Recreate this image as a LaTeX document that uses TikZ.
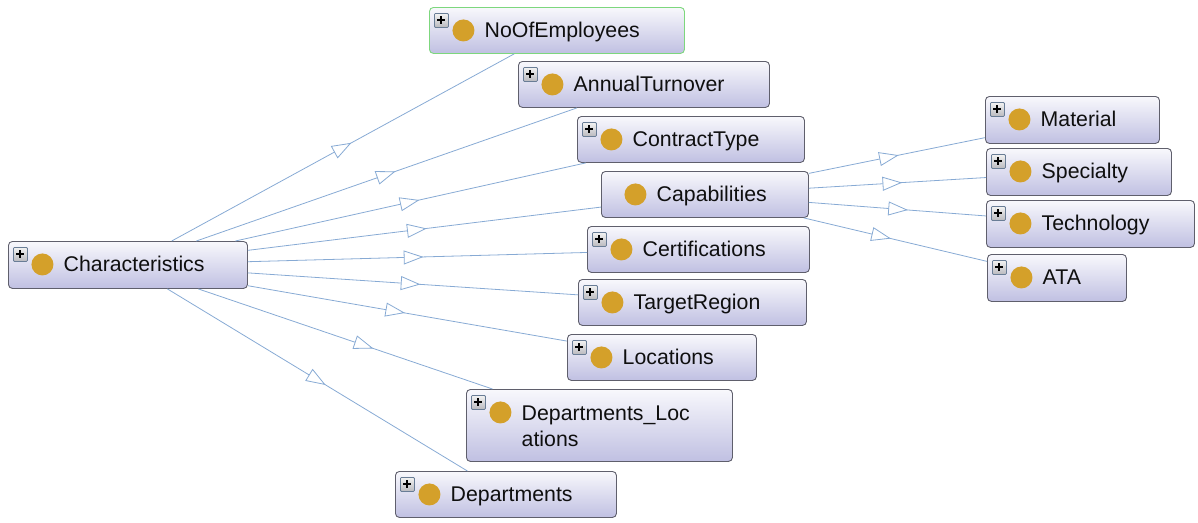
\documentclass[tikz,border=0pt]{standalone}
\usepackage{fontspec}
\setmainfont{Liberation Sans}
\usetikzlibrary{decorations.markings}
\definecolor{edgec}{RGB}{135,170,212}
\definecolor{boxb}{RGB}{95,95,108}
\definecolor{boxtop}{RGB}{248,248,252}
\definecolor{boxbot}{RGB}{192,192,226}
\definecolor{gold}{RGB}{212,160,42}
\definecolor{greenb}{RGB}{125,215,125}
\definecolor{iconb}{RGB}{105,125,150}
\definecolor{icontop}{RGB}{242,242,242}
\definecolor{iconbot}{RGB}{185,185,190}
\definecolor{txt}{RGB}{15,15,15}
\tikzset{
  clsbase/.style 2 args={draw=boxb, line width=0.9pt, rounded corners=4pt,
    top color=boxtop, bottom color=boxbot,
    minimum width=#1pt, minimum height=#2pt, anchor=north west, inner sep=0pt},
  goldpic/.style={path picture={
    \fill[gold] ([shift={(34,23)}]path picture bounding box.north west) circle (11pt);}},
  fullpic/.style={path picture={
    \fill[gold] ([shift={(34,23)}]path picture bounding box.north west) circle (11pt);
    \draw[iconb, line width=0.8pt, rounded corners=1pt, top color=icontop, bottom color=iconbot]
      ([shift={(5,6)}]path picture bounding box.north west) rectangle
      ([shift={(19,20)}]path picture bounding box.north west);
    \draw[black, line width=2pt]
      ([shift={(8,13)}]path picture bounding box.north west) --
      ([shift={(16,13)}]path picture bounding box.north west);
    \draw[black, line width=2pt]
      ([shift={(12,9)}]path picture bounding box.north west) --
      ([shift={(12,17)}]path picture bounding box.north west);}},
  cls/.style 2 args={clsbase={#1}{#2}, fullpic},
  clsnp/.style 2 args={clsbase={#1}{#2}, goldpic},
  lbl/.style={font=\fontsize{21.3pt}{25.5pt}\selectfont, text=txt, inner sep=0pt,
    anchor=base west, align=left},
  edge/.style={draw=edgec, line width=0.8pt},
  tri/.style={decorate,
    decoration={markings, mark=at position 0.5 with {
      \draw[edgec, fill=white, line width=0.8pt, line join=miter]
        (9pt,0pt) -- (-9pt,6.5pt) -- (-9pt,-6.5pt) -- cycle;}}}
}
\begin{document}
\begin{tikzpicture}[x=1pt, y=-1pt]
\useasboundingbox (0,0) rectangle (1198,522);
% boxes
\node[cls={239}{47}] (ch) at (8,241) {};
\node[cls={255}{46}, draw=greenb] (noe) at (429,7) {};
\node[cls={251}{46}] (ann) at (518,61) {};
\node[cls={227}{46}] (ctr) at (577,116) {};
\node[clsnp={207}{46}] (cap) at (601,171) {};
\node[cls={222}{46}] (cert) at (587,226) {};
\node[cls={228}{46}] (treg) at (578,279) {};
\node[cls={189}{46}] (loc) at (567,334) {};
\node[cls={266}{72}] (dloc) at (466,389) {};
\node[cls={221}{46}] (dep) at (395,471) {};
\node[cls={174}{47}] (mat) at (985,96) {};
\node[cls={185}{47}] (spec) at (986,148) {};
\node[cls={208}{47}] (tech) at (986,200) {};
\node[cls={139}{47}] (ata) at (987,254) {};
% labels
\node[lbl] (ch-t) at ([xshift=55.5pt,yshift=-30.5pt]ch.north west) {Characteristics};
\node[lbl] (noe-t) at ([xshift=55.5pt,yshift=-30.5pt]noe.north west) {NoOfEmployees};
\node[lbl] (ann-t) at ([xshift=55.5pt,yshift=-30.5pt]ann.north west) {AnnualTurnover};
\node[lbl] (ctr-t) at ([xshift=55.5pt,yshift=-30.5pt]ctr.north west) {ContractType};
\node[lbl] (cap-t) at ([xshift=55.5pt,yshift=-30.5pt]cap.north west) {Capabilities};
\node[lbl] (cert-t) at ([xshift=55.5pt,yshift=-30.5pt]cert.north west) {Certifications};
\node[lbl] (treg-t) at ([xshift=55.5pt,yshift=-30.5pt]treg.north west) {TargetRegion};
\node[lbl] (loc-t) at ([xshift=55.5pt,yshift=-30.5pt]loc.north west) {Locations};
\node[lbl] (dloc-t) at ([xshift=55.5pt,yshift=-57pt]dloc.north west) {Departments\_Loc\\ations};
\node[lbl] (dep-t) at ([xshift=55.5pt,yshift=-30.5pt]dep.north west) {Departments};
\node[lbl] (mat-t) at ([xshift=55.5pt,yshift=-30.5pt]mat.north west) {Material};
\node[lbl] (spec-t) at ([xshift=55.5pt,yshift=-30.5pt]spec.north west) {Specialty};
\node[lbl] (tech-t) at ([xshift=55.5pt,yshift=-30.5pt]tech.north west) {Technology};
\node[lbl] (ata-t) at ([xshift=55.5pt,yshift=-30.5pt]ata.north west) {ATA};
% edges
\foreach \c in {noe,ann,ctr,cap,cert,treg,loc,dloc,dep}
  \draw[edge] (ch) -- (\c);
\foreach \c in {mat,spec,tech,ata}
  \draw[edge] (cap) -- (\c);
% open triangles at the middle between centres
\foreach \c in {noe,ann,ctr,cap,cert,treg,loc,dloc,dep}
  \path[tri] (ch.center) -- (\c.center);
\foreach \c in {mat,spec,tech,ata}
  \path[tri] (cap.center) -- (\c.center);
\end{tikzpicture}
\end{document}
